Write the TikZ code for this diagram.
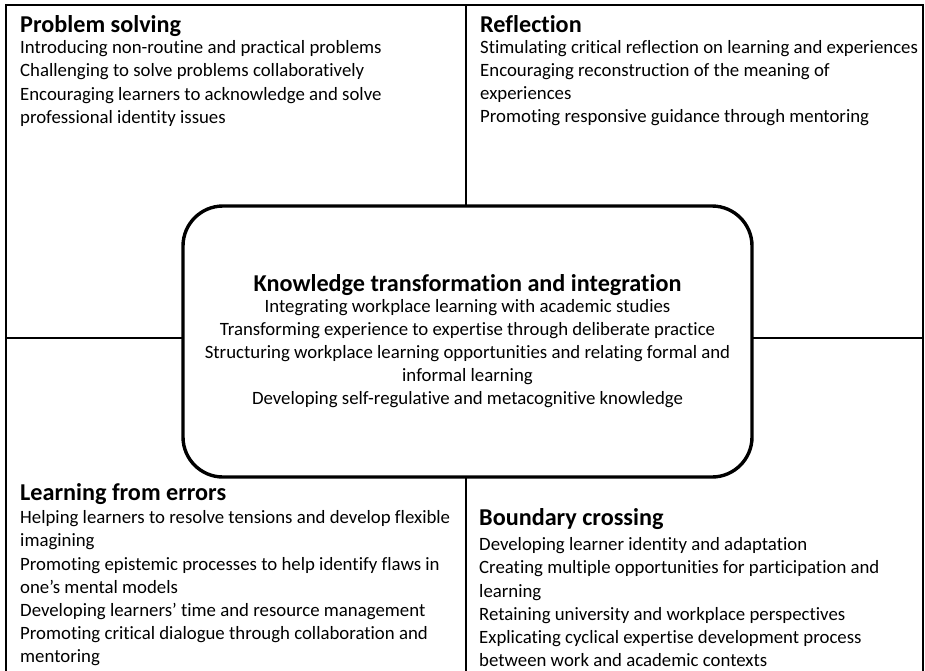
\documentclass[tikz,border=0pt]{standalone}
\usepackage{fontspec}
\setmainfont{Carlito}[Ligatures=NoCommon]
\usetikzlibrary{positioning}
\tikzset{
  quadrant/.style = {draw, line width=1.7pt},
  core/.style = {draw, fill=white, line width=3.4pt, rounded corners=40pt,
    minimum width=569pt, minimum height=271pt, align=center,
    font=\fontsize{18.8}{23.2}\selectfont}
}
\tikzset{
  heading/.style = {font=\fontsize{24.2}{28}\selectfont\bfseries,
    inner sep=0pt, anchor=base west},
  items/.style = {font=\fontsize{18.8}{23.2}\selectfont, inner sep=0pt,
    align=left}
}
\newcommand{\kthead}[1]{{\fontsize{24.2}{28}\selectfont\bfseries #1}}

\begin{document}
\begin{tikzpicture}[x=1pt, y=-1pt]
  \useasboundingbox (0,0) rectangle (925,670);

  % the four quadrants (lower two run off the page)
  \draw[quadrant] (6,5) rectangle (466,338);
  \draw[quadrant] (466,5) rectangle (923,338);
  \draw[quadrant] (6,680) |- (466,338) -- (466,680);
  \draw[quadrant] (466,338) -| (923,680);

  % top left
  \node[heading] (ps) at (20,32.5) {Problem solving};
  \node[items, below=8pt of ps.base west, anchor=north west] (psitems) {%
    Introducing non-routine and practical problems\\
    Challenging to solve problems collaboratively\\
    Encouraging learners to acknowledge and solve\\
    professional identity issues};

  % top right
  \node[heading] (refl) at (480,32) {Reflection};
  \node[items, below=8pt of refl.base west, anchor=north west] (reflitems) {%
    Stimulating critical reflection on learning and experiences\\
    Encouraging reconstruction of the meaning of\\
    experiences\\
    Promoting responsive guidance through mentoring};

  % bottom left
  \node[heading] (lfe) at (20,500.5) {Learning from errors};
  \node[items, below=10pt of lfe.base west, anchor=north west] (lfeitems) {%
    Helping learners to resolve tensions and develop flexible\\
    imagining\\
    Promoting epistemic processes to help identify flaws in\\
    one’s mental models\\
    Developing learners’ time and resource management\\
    Promoting critical dialogue through collaboration and\\
    mentoring};

  % bottom right
  \node[heading] (bc) at (479,525.5) {Boundary crossing};
  \node[items, below=12pt of bc.base west, anchor=north west] (bcitems) {%
    Developing learner identity and adaptation\\
    Creating multiple opportunities for participation and\\
    learning\\
    Retaining university and workplace perspectives\\
    Explicating cyclical expertise development process\\
    between work and academic contexts};

  % centre
  \node[core] (kti) at (467.5,341.5) {%
    \kthead{Knowledge transformation and integration}\\[-3pt]
    Integrating workplace learning with academic studies\\
    Transforming experience to expertise through deliberate practice\\
    Structuring workplace learning opportunities and relating formal and\\
    informal learning\\
    Developing self-regulative and metacognitive knowledge};
\end{tikzpicture}
\end{document}
